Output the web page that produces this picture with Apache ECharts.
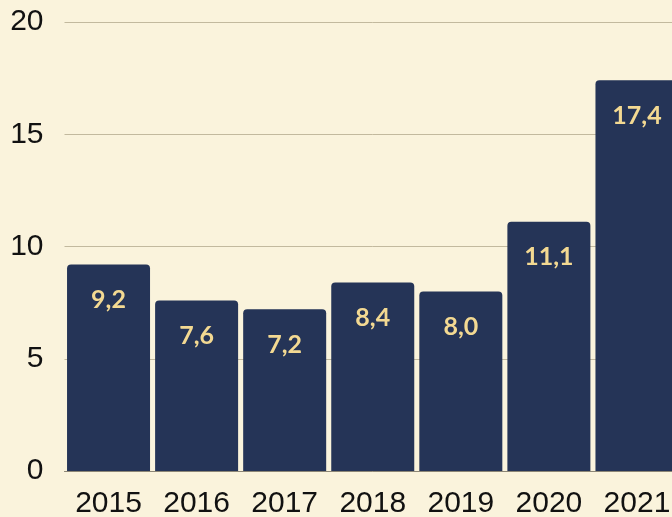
<!DOCTYPE html>
<html>
<head>
<meta charset="utf-8">
<script src="https://cdn.jsdelivr.net/npm/echarts@6/dist/echarts.min.js"></script>
<style>
  html, body { margin: 0; padding: 0; background: #faf3dc; overflow: hidden; }
  /* the last bar runs past the right edge, so the canvas is a bit wider than the window */
  #chart { width: 681px; height: 517px; }
</style>
</head>
<body>
<div id="chart"></div>
<script>
// years on the x axis
const years = ['2015', '2016', '2017', '2018', '2019', '2020', '2021'];
// bar values
const values = [9.2, 7.6, 7.2, 8.4, 8.0, 11.1, 17.4];
// y axis ticks
const yTicks = [0, 5, 10, 15, 20];

const chart = echarts.init(document.getElementById('chart'));

const option = {
  backgroundColor: '#faf3dc',
  animation: false,
  grid: {
    left: 64.5,
    right: 0,
    top: 22,
    bottom: 46,
    containLabel: false,
    outerBoundsMode: 'none',
  },
  xAxis: {
    type: 'category',
    data: years,
    axisTick: { show: false },
    axisLine: { show: true, lineStyle: { color: '#8c8676', width: 1 } },
    axisLabel: {
      color: '#111',
      fontSize: 30,
      fontFamily: 'Liberation Sans',
      margin: 18,
    },
  },
  yAxis: {
    type: 'value',
    min: yTicks[0],
    max: yTicks[yTicks.length - 1],
    interval: 5,
    axisLine: { show: false },
    axisTick: { show: false },
    axisLabel: {
      color: '#111',
      fontSize: 30,
      fontFamily: 'Liberation Sans',
      margin: 21,
    },
    splitLine: { lineStyle: { color: '#c2b99e', width: 1 } },
  },
  series: [
    {
      type: 'bar',
      data: values,
      barWidth: 83,
      itemStyle: {
        color: '#253457',
        borderRadius: [4, 4, 0, 0],
      },
      label: {
        show: true,
        position: 'insideTop',
        distance: 23,
        color: '#f3d992',
        fontSize: 25,
        fontWeight: 'bold',
        fontFamily: 'Lato',
        formatter: p => p.value.toFixed(1).replace('.', ','),
      },
    },
  ],
};

chart.setOption(option);
</script>
</body>
</html>
